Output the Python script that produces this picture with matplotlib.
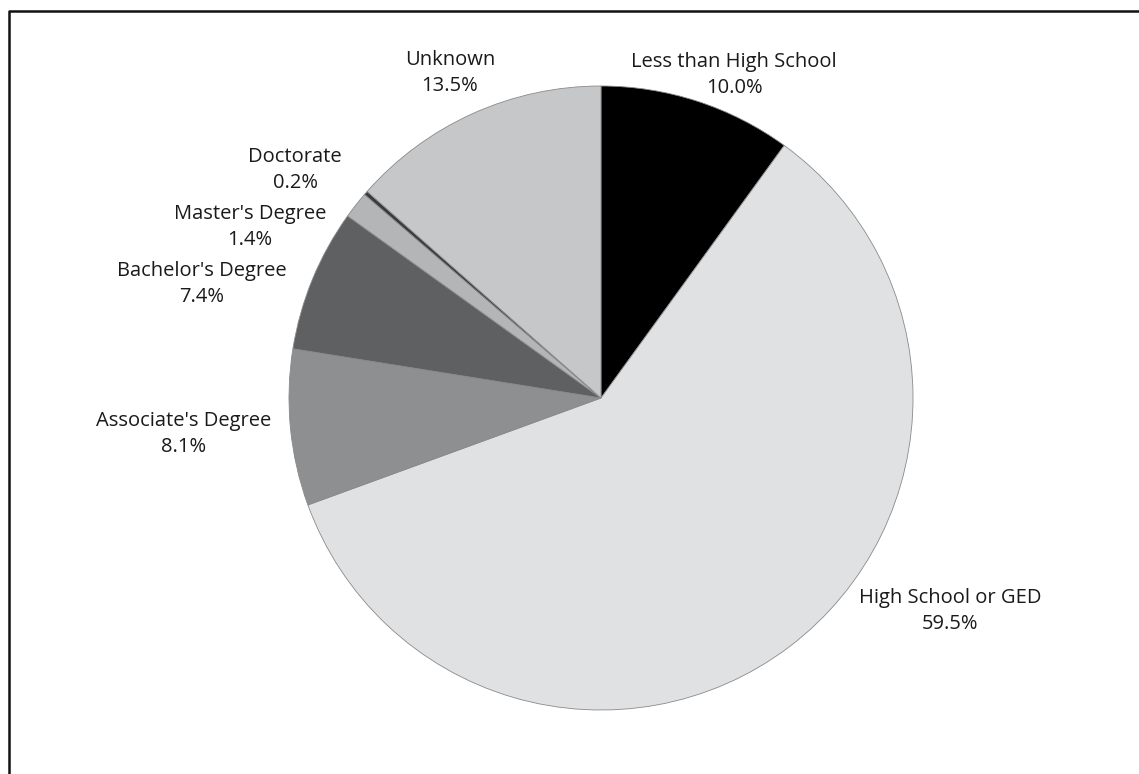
import matplotlib.pyplot as plt
from matplotlib.lines import Line2D

plt.rcParams['font.family'] = ['Open Sans', 'DejaVu Sans']

# data
categories = ["Less than High School", "High School or GED", "Associate's Degree",
              "Bachelor's Degree", "Master's Degree", "Doctorate", "Unknown"]
shares = [10.0, 59.5, 8.1, 7.4, 1.4, 0.2, 13.5]
colors = ['#000000', '#e0e1e3', '#8e8f91', '#5f6062', '#b4b5b7', '#3a3a3a', '#c6c7c9']

# label anchors in pixel coords (x, y from top)
label_pos = [(734, 75), (950, 611), (184, 434), (202, 284), (250, 227), (295, 170), (450, 73)]

W, H = 1139, 774
fig = plt.figure(figsize=(W / 100, H / 100), dpi=100)
ax = fig.add_axes([0, 0, 1, 1])

ax.pie(shares, colors=colors, startangle=90, counterclock=False,
       center=(601, H - 398), radius=312, frame=True,
       wedgeprops=dict(edgecolor='#8a8a8a', linewidth=0.6))
ax.set_xlim(0, W)
ax.set_ylim(0, H)
ax.set_aspect('equal')
ax.axis('off')

for name, val, (x, y) in zip(categories, shares, label_pos):
    ax.text(x, H - y, f"{name}\n{val:.1f}%", ha='center', va='center',
            fontsize=14.5, color='#1a1a1a', linespacing=1.45)

# frame lines (top and left)
fig.add_artist(Line2D([8.5 / W, 8.5 / W, 1], [0, 1 - 11 / H, 1 - 11 / H],
                      transform=fig.transFigure, color='#111111', linewidth=1.8))

fig.savefig('out.png', dpi=100)
